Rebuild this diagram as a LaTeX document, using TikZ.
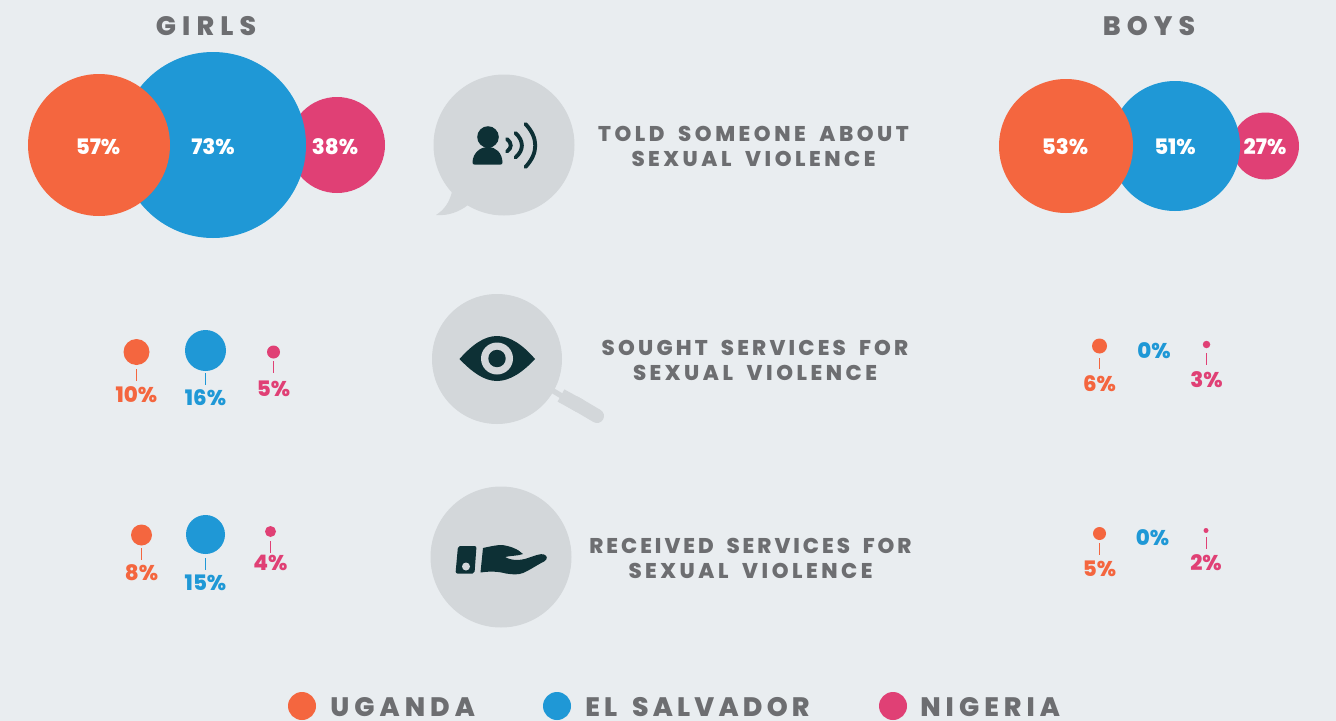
\documentclass[tikz,border=0pt]{standalone}
\usepackage{fontspec}
\setmainfont{Poppins}[BoldFont=* ExtraBold]
\newfontfamily\hdfont[LetterSpace=23,WordSpace=1.6,BoldFont=* ExtraBold]{Poppins}
\newfontfamily\capfont[LetterSpace=16.5,WordSpace=1.8,BoldFont=* ExtraBold]{Poppins}
\newfontfamily\capfontb[LetterSpace=15,WordSpace=1.8,BoldFont=* ExtraBold]{Poppins}
\newfontfamily\capfontc[LetterSpace=14,WordSpace=1.8,BoldFont=* ExtraBold]{Poppins}
\newfontfamily\legfont[LetterSpace=19,WordSpace=1.6,BoldFont=* ExtraBold]{Poppins}
\newfontfamily\legfontb[LetterSpace=15.8,WordSpace=1.6,BoldFont=* ExtraBold]{Poppins}
\definecolor{bg}{HTML}{E9EDF0}
\definecolor{ug}{HTML}{F4663F}
\definecolor{sv}{HTML}{1F98D6}
\definecolor{ng}{HTML}{E04075}
\definecolor{disc}{HTML}{D3D7DA}
\definecolor{ink}{HTML}{0D3035}
\definecolor{txt}{HTML}{6D6E71}
\tikzset{
  x=0.75pt,y=-0.75pt,
  dotc/.style={circle,fill=#1,draw=none,inner sep=0pt},
  valtxt/.style={text=white,font=\fontsize{16}{18}\selectfont\bfseries,inner sep=0pt},
  pcttxt/.style={text=#1,font=\fontsize{16}{18}\selectfont\bfseries,inner sep=0pt},
  stemline/.style={draw=#1,line width=0.75pt},
  headtxt/.style={text=txt,font=\fontsize{20}{22}\selectfont\hdfont\bfseries,inner sep=0pt},
  captxt/.style={text=txt,font=\fontsize{16}{18}\selectfont\capfont\bfseries,inner sep=0pt},
  captxtb/.style={text=txt,font=\fontsize{16}{18}\selectfont\capfontb\bfseries,inner sep=0pt},
  captxtc/.style={text=txt,font=\fontsize{16}{18}\selectfont\capfontc\bfseries,inner sep=0pt},
  legtxt/.style={text=txt,font=\fontsize{20}{24}\selectfont\legfont\bfseries,inner sep=0pt,anchor=west},
  legtxtb/.style={text=txt,font=\fontsize{20}{24}\selectfont\legfontb\bfseries,inner sep=0pt,anchor=west},
  waveline/.style={draw=ink,line width=2.9pt,line cap=round},
}
% name, x, y, diameter, colour, stem top, stem bottom, label y, text
\newcommand{\pctdot}[9]{%
  \node[dotc=#5,minimum size=#4*0.75pt] (#1d) at (#2,#3) {};
  \node[pcttxt=#5] (#1t) at (#2,#8) {#9};
  \coordinate (#1a) at (#2,#6);
  \coordinate (#1b) at (#2,#7);
  \draw[stemline=#5] (#1a) -- (#1b);
}
\begin{document}
\begin{tikzpicture}
\useasboundingbox (0,0) rectangle (1336,721);
\fill[bg] (0,0) rectangle (1336,721);
% titles
\node[headtxt] (girls) at (206,26.5) {GIRLS};
\node[headtxt] (boys) at (1149,26.5) {BOYS};
% top row girls
\node[dotc=ng,minimum size=96*0.75pt] (gn) at (337,145) {};
\node[dotc=sv,minimum size=186*0.75pt] (gs) at (213,145) {};
\node[dotc=ug,minimum size=142*0.75pt] (gu) at (99,145) {};
\node[valtxt] (gut) at (98,147) {57\%};
\node[valtxt] (gst) at (213,147) {73\%};
\node[valtxt] (gnt) at (335,147) {38\%};
% top row boys
\node[dotc=ng,minimum size=67*0.75pt] (bn) at (1265.5,146) {};
\node[dotc=sv,minimum size=130*0.75pt] (bs) at (1175,146) {};
\node[dotc=ug,minimum size=134*0.75pt] (bu) at (1066,146) {};
\node[valtxt] (but) at (1065,147) {53\%};
\node[valtxt] (bst) at (1175,147) {51\%};
\node[valtxt] (bnt) at (1265,147) {27\%};
% speech bubble
\fill[disc] (504,145) circle[radius=70.5];
\fill[disc] (452,192) .. controls (449,203) and (444,210) .. (436,215)
  .. controls (448,216) and (459,212) .. (468,205) -- (480,190) -- cycle;
% person
\fill[ink] (488,137) circle[radius=10.8];
\fill[ink] (472.5,162) .. controls (473,153) and (480,147) .. (488,147)
  .. controls (496,147) and (502,153) .. (502.5,162)
  .. controls (502.5,164) and (502,164.5) .. (500.5,164.5) -- (474.5,164.5)
  .. controls (473,164.5) and (472.5,164) .. (472.5,162) -- cycle;
\draw[waveline] (507,139) .. controls (512,143) and (512,148) .. (507,151.5);
\draw[waveline] (515.5,133) .. controls (524,141) and (524,150) .. (515.5,157.5);
\draw[waveline] (525.5,124) .. controls (538.5,138) and (538.5,153) .. (525.5,167);
% magnifier
\fill[disc] (497,359) circle[radius=65];
\draw[disc,line width=4pt] (550,389) -- (565,398);
\draw[disc,line width=10.5pt] (561,395.5) -- (580,406);
\draw[disc,line width=10.5pt,line cap=round] (575,403) -- (597,416);
% eye
\fill[ink] (459.5,359) .. controls (472,345) and (484,336) .. (497,336)
  .. controls (510,336) and (523,345) .. (535,359)
  .. controls (523,372) and (510,381) .. (497,381)
  .. controls (484,381) and (472,372) .. (459.5,359) -- cycle;
\fill[disc] (497,358.5) circle[radius=16];
\fill[ink] (497,358.5) circle[radius=8.7];
% hand disc
\fill[disc] (501,557) circle[radius=70.5];
\fill[ink,rounded corners=1.5pt] (458,546) -- (476.5,546) -- (474.5,573.5) -- (455.5,573.5) -- cycle;
\fill[disc] (466,566.5) circle[radius=4];
\fill[ink] (483,548) .. controls (490,546.5) and (496,545) .. (502,545)
  .. controls (510,546) and (518,549) .. (523,554)
  .. controls (518,556) and (511,555.5) .. (505,557)
  .. controls (512,561) and (521,560.5) .. (528,558)
  .. controls (534,556) and (541,553) .. (544,554.5)
  .. controls (548,556) and (547.5,559.5) .. (544,561.5)
  .. controls (537,565) and (530,570) .. (523,573)
  .. controls (518,575) and (512,574.5) .. (506,573.5)
  .. controls (498,571.5) and (491,571) .. (480.5,572.5) -- cycle;
% captions
\node[captxt] (c1a) at (753.5,134) {TOLD SOMEONE ABOUT};
\node[captxt] (c1b) at (753.5,158.5) {SEXUAL VIOLENCE};
\node[captxtb] (c2a) at (755,348) {SOUGHT SERVICES FOR};
\node[captxt] (c2b) at (755,372.5) {SEXUAL VIOLENCE};
\node[captxtc] (c3a) at (750.5,546) {RECEIVED SERVICES FOR};
\node[captxt] (c3b) at (750.5,570.5) {SEXUAL VIOLENCE};
% small dots girls
\pctdot{ga}{136.5}{352}{26}{ug}{369}{381}{394.5}{10\%}
\pctdot{gb}{205.5}{350.5}{41}{sv}{373}{385}{397.5}{16\%}
\pctdot{gc}{273.5}{352}{13}{ng}{361}{373}{388.5}{5\%}
\pctdot{gd}{141.5}{535}{21}{ug}{548}{560}{572.5}{8\%}
\pctdot{ge}{205.5}{534.5}{39}{sv}{558}{570}{582.5}{15\%}
\pctdot{gf}{270.5}{531.5}{11}{ng}{541}{553}{562.5}{4\%}
% small dots boys
\pctdot{ba}{1099.5}{346}{15}{ug}{358}{369}{383.5}{6\%}
\node[pcttxt=sv] (bb) at (1154,350.5) {0\%};
\pctdot{bc}{1206.5}{344.5}{7.5}{ng}{353}{365}{379.5}{3\%}
\pctdot{bd}{1099.5}{533.5}{13}{ug}{543}{555}{568.5}{5\%}
\node[pcttxt=sv] (be) at (1152.5,537.5) {0\%};
\pctdot{bf}{1206}{530.5}{5}{ng}{537}{549}{562.5}{2\%}
% legend
\node[dotc=ug,minimum size=28*0.75pt] (l1) at (302,706) {};
\node[legtxt] (l1t) at (330,707) {UGANDA};
\node[dotc=sv,minimum size=28*0.75pt] (l2) at (557,706) {};
\node[legtxtb] (l2t) at (585,707) {EL SALVADOR};
\node[dotc=ng,minimum size=28*0.75pt] (l3) at (893,706) {};
\node[legtxt] (l3t) at (920,707) {NIGERIA};
\end{tikzpicture}
\end{document}
